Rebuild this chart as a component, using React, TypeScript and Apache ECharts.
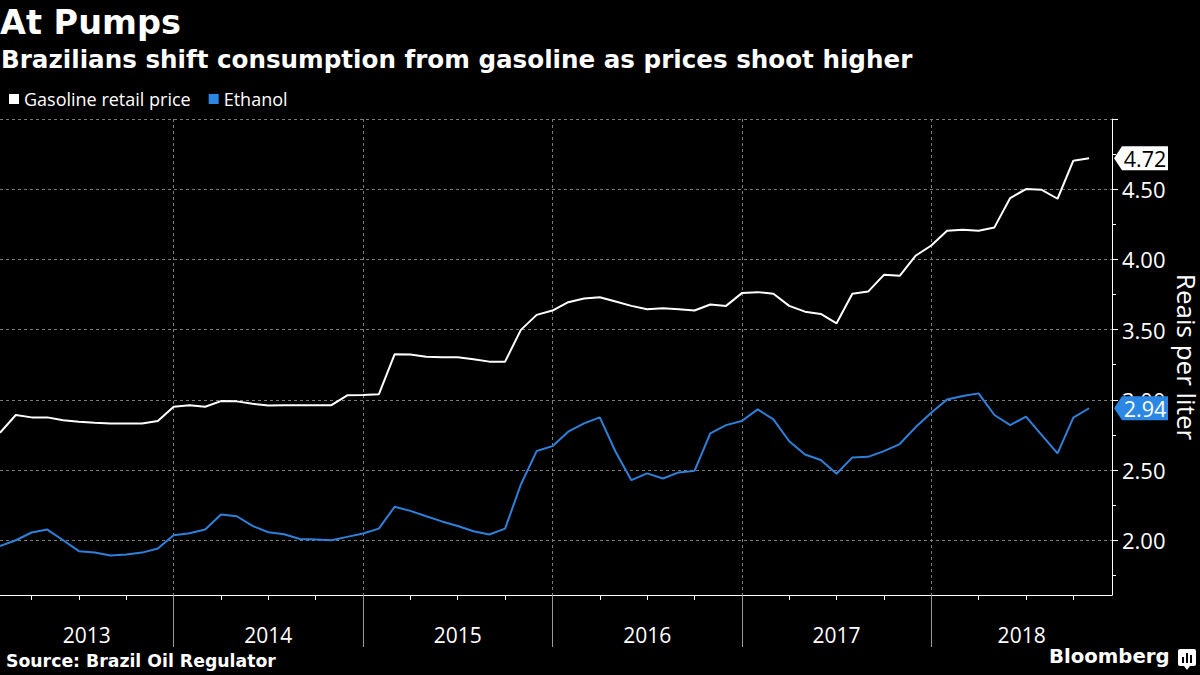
import React, { useEffect, useRef } from "react";
import * as echarts from "echarts";

const months = [
  "2013-02", "2013-03", "2013-04", "2013-05", "2013-06", "2013-07", "2013-08", "2013-09", "2013-10", "2013-11", "2013-12",
  "2014-01", "2014-02", "2014-03", "2014-04", "2014-05", "2014-06", "2014-07", "2014-08", "2014-09", "2014-10", "2014-11", "2014-12",
  "2015-01", "2015-02", "2015-03", "2015-04", "2015-05", "2015-06", "2015-07", "2015-08", "2015-09", "2015-10", "2015-11", "2015-12",
  "2016-01", "2016-02", "2016-03", "2016-04", "2016-05", "2016-06", "2016-07", "2016-08", "2016-09", "2016-10", "2016-11", "2016-12",
  "2017-01", "2017-02", "2017-03", "2017-04", "2017-05", "2017-06", "2017-07", "2017-08", "2017-09", "2017-10", "2017-11", "2017-12",
  "2018-01", "2018-02", "2018-03", "2018-04", "2018-05", "2018-06", "2018-07", "2018-08", "2018-09", "2018-10", "2018-11",
];

const gasoline = [
  2.765, 2.892, 2.875, 2.875, 2.854, 2.844, 2.837, 2.832, 2.832, 2.832, 2.849,
  2.951, 2.961, 2.951, 2.991, 2.989, 2.972, 2.96, 2.962, 2.962, 2.962, 2.962, 3.032,
  3.034, 3.039, 3.324, 3.322, 3.307, 3.303, 3.303, 3.289, 3.272, 3.272, 3.498, 3.605,
  3.636, 3.695, 3.721, 3.731, 3.7, 3.669, 3.645, 3.653, 3.645, 3.636, 3.679, 3.669,
  3.76, 3.767, 3.755, 3.669, 3.628, 3.612, 3.545, 3.755, 3.771, 3.89, 3.883, 4.026,
  4.099, 4.204, 4.211, 4.204, 4.228, 4.437, 4.501, 4.496, 4.432, 4.703, 4.72,
];

const ethanol = [
  1.959, 2.0, 2.055, 2.076, 2.0, 1.922, 1.912, 1.891, 1.898, 1.912, 1.941,
  2.036, 2.05, 2.076, 2.183, 2.171, 2.102, 2.057, 2.043, 2.009, 2.005, 2.0, 2.024,
  2.048, 2.083, 2.238, 2.209, 2.171, 2.134, 2.101, 2.064, 2.041, 2.083, 2.397, 2.635,
  2.67, 2.773, 2.832, 2.875, 2.63, 2.428, 2.476, 2.44, 2.483, 2.494, 2.761, 2.82,
  2.849, 2.932, 2.861, 2.705, 2.611, 2.571, 2.474, 2.59, 2.594, 2.635, 2.685, 2.804,
  2.908, 3.003, 3.027, 3.046, 2.892, 2.82, 2.88, 2.749, 2.618, 2.873, 2.94,
];

const yearLabels = ["2013", "2014", "2015", "2016", "2017", "2018"];
const yTickLabels = ["2.00", "2.50", "3.00", "3.50", "4.00", "4.50"];
const yMinorTicks = [1.75, 2.25, 2.75, 3.25, 3.75, 4.25, 4.75];
const yMin = 1.61;
const yMax = 5.0;

const BASE_YEAR = Number(yearLabels[0]);
const monthIndex = (s: string) => {
  const [y, m] = s.split("-").map(Number);
  return (y - BASE_YEAR) * 12 + (m - 1);
};

const xMin = monthIndex(months[0]);
const xMax = monthIndex(months[months.length - 1]) + 1.45;

const gasData = months.map((m, i) => [monthIndex(m), gasoline[i]]);
const ethData = months.map((m, i) => [monthIndex(m), ethanol[i]]);

const quarterTicks = months.map(monthIndex).filter((v) => v % 3 === 0);
const yearBounds = yearLabels.slice(1).map((y) => (Number(y) - BASE_YEAR) * 12);
const yearMids = yearLabels.map((y) => {
  const s = Math.max(xMin, (Number(y) - BASE_YEAR) * 12);
  const e = Math.min(xMax, (Number(y) - BASE_YEAR + 1) * 12);
  return (s + e) / 2;
});
const yTicks = yTickLabels.map(Number);

const BLUE = "#2f80da";
const BLUE_BOX = "#2b87e3";
const GRID = "#7a7a7a";
const TAG = "path://M0,12L8,0L54,0L54,24L8,24Z";

export default function App() {
  const ref = useRef<HTMLDivElement>(null);
  useEffect(() => {
    if (!ref.current) return;
    const chart = echarts.init(ref.current, undefined, { renderer: "svg" });
    const tagLabel = (color: string) => ({
      show: true,
      position: "inside",
      offset: [4, 0],
      color,
      fontSize: 21.5,
      fontFamily: "Open Sans",
      formatter: (p: any) => Number(p.value).toFixed(2),
    });
    const option: any = {
      backgroundColor: "#000",
      animation: false,
      textStyle: { fontFamily: "Open Sans" },
      title: [
        {
          text: "At Pumps",
          left: 0,
          top: 5,
          padding: 0,
          textStyle: { color: "#fff", fontFamily: "DejaVu Sans", fontWeight: "bold", fontSize: 33.5 },
        },
        {
          text: "Brazilians shift consumption from gasoline as prices shoot higher",
          left: 1,
          top: 47,
          padding: 0,
          textStyle: { color: "#fff", fontFamily: "DejaVu Sans", fontWeight: "bold", fontSize: 24.6 },
        },
      ],
      legend: {
        left: 9,
        top: 90,
        padding: 0,
        icon: "rect",
        itemWidth: 10,
        itemHeight: 10,
        itemGap: 18,
        textStyle: { color: "#fff", fontSize: 18, fontFamily: "Open Sans" },
        data: [
          { name: "Gasoline retail price", itemStyle: { color: "#fff" } },
          { name: "Ethanol", itemStyle: { color: BLUE_BOX } },
        ],
      },
      grid: { left: 0, right: 88, top: 119, bottom: 80, containLabel: false, outerBoundsMode: "none" },
      xAxis: [
        {
          type: "value",
          min: xMin,
          max: xMax,
          position: "bottom",
          axisLine: { show: true, onZero: false, lineStyle: { color: "#fff", width: 1 } },
          axisTick: { show: true, customValues: quarterTicks, length: 5, lineStyle: { color: "#fff" } },
          axisLabel: {
            customValues: yearMids,
            formatter: (v: number) => String(BASE_YEAR + Math.floor(v / 12)),
            color: "#fff",
            fontSize: 21,
            margin: 29,
          },
          splitLine: { show: false },
        },
        {
          type: "value",
          min: xMin,
          max: xMax,
          position: "bottom",
          axisLine: { show: false, onZero: false },
          axisTick: { show: true, customValues: yearBounds, length: 52, lineStyle: { color: "#9a9a9a" } },
          axisLabel: { show: false },
          splitLine: { show: true, lineStyle: { color: GRID, type: [3, 3], width: 1 } },
        },
      ],
      yAxis: [
        {
          type: "value",
          position: "right",
          min: yMin,
          max: yMax,
          axisLine: { show: true, lineStyle: { color: "#fff", width: 1 } },
          axisTick: { show: true, customValues: [...yTicks, yMax], length: 6, lineStyle: { color: "#fff" } },
          axisLabel: {
            customValues: yTicks,
            formatter: (v: number) => v.toFixed(2),
            color: "#fff",
            fontSize: 22,
            margin: 10,
          },
          splitLine: { show: true, lineStyle: { color: GRID, type: [3, 3], width: 1 } },
          name: "Reais per liter",
          nameLocation: "middle",
          nameRotate: -90,
          nameMoveOverlap: false,
          nameGap: 62,
          nameTextStyle: { color: "#fff", fontSize: 26, fontFamily: "Open Sans" },
        },
        {
          type: "value",
          position: "right",
          min: yMin,
          max: yMax,
          axisLine: { show: false },
          axisTick: { show: true, customValues: yMinorTicks, length: 4, lineStyle: { color: "#fff" } },
          axisLabel: { show: false },
          splitLine: { show: false },
        },
      ],
      series: [
        {
          name: "Gasoline retail price",
          type: "line",
          data: gasData,
          symbol: "none",
          lineStyle: { color: "#fff", width: 2 },
          itemStyle: { color: "#fff" },
          z: 3,
          markPoint: {
            symbol: TAG,
            symbolSize: [54, 24],
            symbolOffset: [29, 0],
            itemStyle: { color: "#fff" },
            label: tagLabel("#000"),
            data: [{ coord: [xMax, gasoline[gasoline.length - 1]], value: gasoline[gasoline.length - 1] }],
          },
        },
        {
          name: "Ethanol",
          type: "line",
          data: ethData,
          symbol: "none",
          lineStyle: { color: BLUE, width: 2 },
          itemStyle: { color: BLUE },
          z: 3,
          markPoint: {
            symbol: TAG,
            symbolSize: [54, 24],
            symbolOffset: [29, 0],
            itemStyle: { color: BLUE_BOX },
            label: tagLabel("#fff"),
            data: [{ coord: [xMax, ethanol[ethanol.length - 1]], value: ethanol[ethanol.length - 1] }],
          },
        },
      ],
      graphic: [
        {
          type: "text",
          left: 6,
          top: 652,
          style: { text: "Source: Brazil Oil Regulator", fill: "#fff", font: 'bold 17.3px "DejaVu Sans"' },
        },
        {
          type: "text",
          left: 1049,
          top: 646,
          style: { text: "Bloomberg", fill: "#fff", font: 'bold 19.7px "DejaVu Sans"' },
        },
        {
          type: "group",
          left: 1178,
          top: 649,
          children: [
            { type: "rect", shape: { x: 0, y: 0, width: 18, height: 17, r: 2 }, style: { fill: "#fff" } },
            { type: "rect", shape: { x: 4, y: 8, width: 2, height: 6 }, style: { fill: "#000" } },
            { type: "rect", shape: { x: 8, y: 4, width: 2, height: 10 }, style: { fill: "#000" } },
            { type: "rect", shape: { x: 12, y: 6, width: 2, height: 8 }, style: { fill: "#000" } },
            { type: "polygon", shape: { points: [[6, 17], [12, 17], [9, 21]] }, style: { fill: "#fff" } },
          ],
        },
      ],
    };
    chart.setOption(option);
    return () => chart.dispose();
  }, []);
  return <div ref={ref} style={{ position: "fixed", left: 0, top: 0, width: 1200, height: 675 }} />;
}
